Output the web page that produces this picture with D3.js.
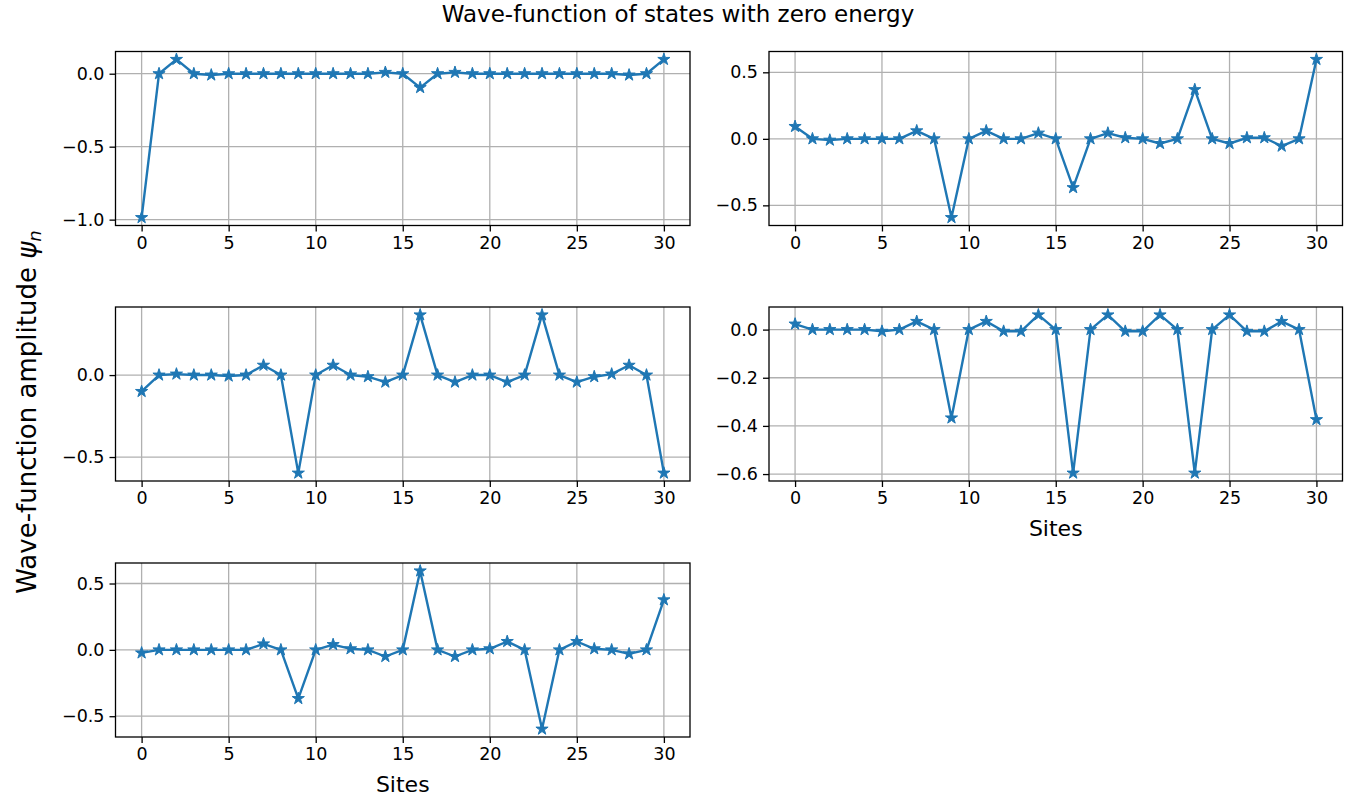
<!DOCTYPE html>
<html>
<head>
<meta charset="utf-8">
<script src="https://cdn.jsdelivr.net/npm/d3@7"></script>
<style>
  body { margin: 0; background: #fff; }
  text { font-family: "DejaVu Sans", sans-serif; }
</style>
</head>
<body>
<script>
// sites 0..30
var sites = d3.range(0, 31);

var state1 = [-0.986, 0.0, 0.098, 0.0, -0.009, 0.0, 0.0, 0.0, 0.0, 0.0, 0.0, 0.0, 0.0, 0.0, 0.009, 0.0,
              -0.095, 0.0, 0.009, 0.0, 0.0, 0.0, 0.0, 0.0, 0.0, 0.0, 0.0, 0.0, -0.009, 0.0, 0.098];
var state2 = [0.093, 0.0, -0.01, 0.0, 0.0, 0.0, 0.0, 0.06, 0.0, -0.592, 0.0, 0.06, 0.0, 0.0, 0.043, 0.0,
              -0.367, 0.0, 0.043, 0.008, 0.0, -0.035, 0.0, 0.37, 0.0, -0.035, 0.008, 0.008, -0.055, 0.0, 0.597];
var state3 = [-0.1, 0.0, 0.006, 0.0, 0.0, -0.006, 0.0, 0.06, 0.0, -0.598, 0.0, 0.06, 0.0, -0.01, -0.043, 0.0,
              0.367, 0.0, -0.043, 0.0, 0.0, -0.043, 0.0, 0.367, 0.0, -0.043, -0.01, 0.006, 0.06, 0.0, -0.598];
var state4 = [0.023, 0.0, 0.0, 0.0, 0.0, -0.007, 0.0, 0.034, 0.0, -0.367, 0.0, 0.034, -0.007, -0.007, 0.061, 0.0,
              -0.596, 0.0, 0.061, -0.007, -0.007, 0.061, 0.0, -0.596, 0.0, 0.061, -0.007, -0.007, 0.034, 0.0, -0.374];
var state5 = [-0.023, 0.0, 0.0, 0.0, 0.0, 0.0, 0.0, 0.045, 0.0, -0.367, 0.0, 0.04, 0.008, 0.0, -0.05, 0.0,
              0.595, 0.0, -0.05, 0.0, 0.008, 0.063, 0.0, -0.597, 0.0, 0.063, 0.008, 0.0, -0.03, 0.0, 0.377];

var xTicks = [0, 5, 10, 15, 20, 25, 30];
var yTicks1 = [-1.0, -0.5, 0.0];
var yTicks2 = [-0.5, 0.0, 0.5];
var yTicks3 = [-0.5, 0.0];
var yTicks4 = [-0.6, -0.4, -0.2, 0.0];
var yTicks5 = [-0.5, 0.0, 0.5];

var title = "Wave-function of states with zero energy";
var xLabel = "Sites";

var W = 1357, H = 801;
var svg = d3.select("body").append("svg").attr("width", W).attr("height", H);

// panel boxes (matplotlib 3x2 grid, last one removed)
var colX = [[115.5, 690], [769, 1342.5]];
var rowY = [51.5, 307, 563];
var ph = 174;

var panels = [
  {data: state1, yt: yTicks1, col: 0, row: 0, xl: false},
  {data: state2, yt: yTicks2, col: 1, row: 0, xl: false},
  {data: state3, yt: yTicks3, col: 0, row: 1, xl: false},
  {data: state4, yt: yTicks4, col: 1, row: 1, xl: true},
  {data: state5, yt: yTicks5, col: 0, row: 2, xl: true}
];

var blue = "#1f77b4";
var fmt = d3.format(".1f");
var star = d3.symbol().type(d3.symbolStar).size(46);

panels.forEach(function(p) {
  var x0 = colX[p.col][0], x1 = colX[p.col][1];
  var y0 = rowY[p.row], y1 = y0 + ph;
  var mn = d3.min(p.data), mx = d3.max(p.data), m = (mx - mn) * 0.05;
  var x = d3.scaleLinear().domain([-1.5, 31.5]).range([x0, x1]);
  var y = d3.scaleLinear().domain([mn - m, mx + m]).range([y1, y0]);

  var g = svg.append("g");

  // grid
  g.selectAll(".gx").data(xTicks).enter().append("line")
    .attr("x1", function(d) { return x(d); }).attr("x2", function(d) { return x(d); })
    .attr("y1", y0).attr("y2", y1)
    .attr("stroke", "#b0b0b0").attr("stroke-width", 1.3);
  g.selectAll(".gy").data(p.yt).enter().append("line")
    .attr("x1", x0).attr("x2", x1)
    .attr("y1", function(d) { return y(d); }).attr("y2", function(d) { return y(d); })
    .attr("stroke", "#b0b0b0").attr("stroke-width", 1.3);

  // line + markers
  var line = d3.line().x(function(d, i) { return x(sites[i]); }).y(function(d) { return y(d); });
  g.append("path").attr("d", line(p.data))
    .attr("fill", "none").attr("stroke", blue).attr("stroke-width", 2.4)
    .attr("stroke-linejoin", "round");
  g.selectAll(".mk").data(p.data).enter().append("path")
    .attr("d", star)
    .attr("transform", function(d, i) { return "translate(" + x(sites[i]) + "," + y(d) + ")"; })
    .attr("fill", blue).attr("stroke", blue).attr("stroke-width", 1);

  // axes
  var ax = g.append("g").attr("transform", "translate(0," + y1 + ")")
    .call(d3.axisBottom(x).tickValues(xTicks).tickSize(6).tickPadding(5).tickSizeOuter(0));
  var ay = g.append("g").attr("transform", "translate(" + x0 + ",0)")
    .call(d3.axisLeft(y).tickValues(p.yt).tickFormat(fmt).tickSize(6).tickPadding(5).tickSizeOuter(0));
  [ax, ay].forEach(function(a) {
    a.select(".domain").remove();
    a.selectAll(".tick line").attr("stroke", "#000").attr("stroke-width", 1.3);
    a.selectAll(".tick text").attr("font-size", "17.5px").attr("fill", "#000")
      .style("font-family", "'DejaVu Sans', sans-serif");
  });

  // spines
  g.append("rect").attr("x", x0).attr("y", y0).attr("width", x1 - x0).attr("height", ph)
    .attr("fill", "none").attr("stroke", "#000").attr("stroke-width", 1.3);

  if (p.xl) {
    g.append("text").attr("x", (x0 + x1) / 2).attr("y", y1 + 55)
      .attr("text-anchor", "middle").attr("font-size", "22px").text(xLabel);
  }
});

svg.append("text").attr("x", 678).attr("y", 22).attr("text-anchor", "middle")
  .attr("font-size", "23px").text(title);

var yl = svg.append("text").attr("transform", "translate(36,412) rotate(-90)")
  .attr("text-anchor", "middle").attr("font-size", "26px");
yl.append("tspan").text("Wave-function amplitude ");
yl.append("tspan").attr("font-style", "italic").text("\u03c8");
yl.append("tspan").attr("font-size", "18px").attr("dy", 5).attr("font-style", "italic").text("n");
</script>
</body>
</html>
